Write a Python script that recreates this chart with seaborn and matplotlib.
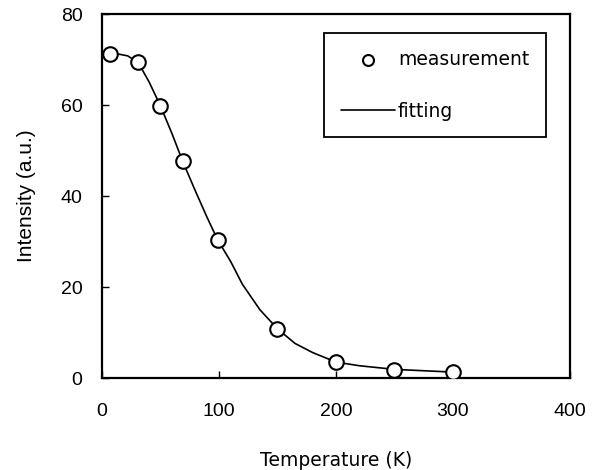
import numpy as np
import pandas as pd
import matplotlib
matplotlib.use('Agg')
import matplotlib.pyplot as plt
import seaborn as sns

# measured points
temp_meas = [7, 31, 50, 69, 99, 150, 200, 250, 300]
int_meas = [71.3, 69.4, 59.8, 47.6, 30.3, 10.8, 3.5, 1.8, 1.3]

# fitted curve
temp_fit = [7, 14, 22, 31, 40, 50, 60, 69, 80, 90, 99, 110, 120, 135, 150,
            165, 180, 200, 220, 250, 275, 300]
int_fit = [71.3, 71.2, 70.8, 69.3, 65.2, 59.8, 53.6, 47.6, 41.0, 35.2, 30.3,
           25.6, 20.6, 15.0, 10.8, 7.6, 5.6, 3.5, 2.7, 1.9, 1.6, 1.3]

x_ticks = [0, 100, 200, 300, 400]
y_ticks = [0, 20, 40, 60, 80]

sns.set_theme(style='white')
plt.rcParams['font.family'] = ['Liberation Sans', 'DejaVu Sans']
plt.rcParams['text.color'] = 'black'
plt.rcParams['axes.labelcolor'] = 'black'

meas = pd.DataFrame({'T': temp_meas, 'I': int_meas})
fit = pd.DataFrame({'T': temp_fit, 'I': int_fit})

fig = plt.figure(figsize=(5.95, 4.70), dpi=100)
ax = fig.add_axes([0.1714, 0.1957, 0.7866, 0.7745])

sns.lineplot(data=fit, x='T', y='I', ax=ax, color='black', linewidth=1.2,
             label='fitting', sort=False)
sns.scatterplot(data=meas, x='T', y='I', ax=ax, s=110, facecolor='white',
                edgecolor='black', linewidth=1.5, label='measurement', zorder=3)

ax.set_xlim(0, 400)
ax.set_ylim(0, 80)
ax.set_xticks(x_ticks)
ax.set_yticks(y_ticks)
ax.tick_params(direction='in', length=5, width=1, labelsize=14, colors='black',
               bottom=True, left=True, top=False, right=False)
ax.tick_params(axis='x', pad=18)
ax.tick_params(axis='y', pad=14)
for sp in ax.spines.values():
    sp.set_color('black')
    sp.set_linewidth(1.6)

ax.set_xlabel('Temperature (K)', fontsize=13.5, labelpad=22, color='black',
              family='DejaVu Sans')
ax.set_ylabel('Intensity (a.u.)', fontsize=15, labelpad=18, color='black')

handles, labels = ax.get_legend_handles_labels()
order = [labels.index('measurement'), labels.index('fitting')]
leg = ax.legend([handles[i] for i in order], [labels[i] for i in order],
                loc='upper right', bbox_to_anchor=(0.949, 0.948),
                prop={'family': 'DejaVu Sans', 'size': 13.5},
                frameon=True, fancybox=False, framealpha=1, markerscale=0.75,
                edgecolor='black', borderpad=0.9, labelspacing=1.75,
                handlelength=2.9, handletextpad=0.15, borderaxespad=0)
leg.get_frame().set_linewidth(1.3)
for t in leg.get_texts():
    t.set_color('black')

fig.savefig('out.png', dpi=100)
